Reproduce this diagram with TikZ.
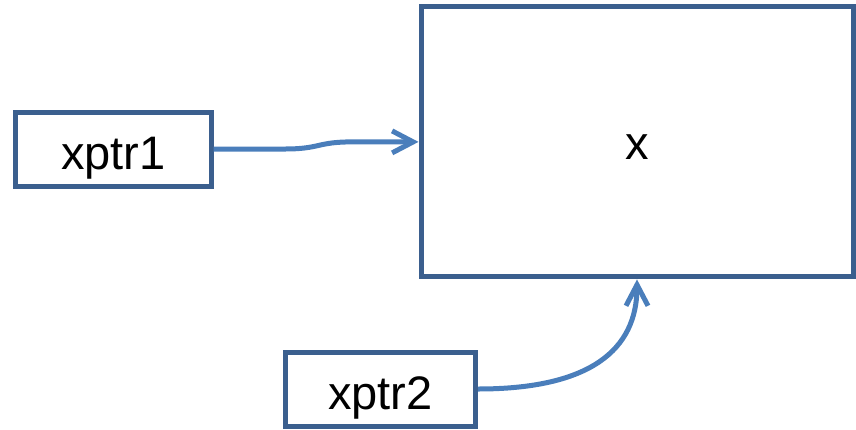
\documentclass[tikz,border=0pt]{standalone}
\usepackage{fontspec}
\setmainfont{Liberation Sans}
\usetikzlibrary{arrows.meta}
\definecolor{boxblue}{HTML}{3B5F8E}
\definecolor{linkblue}{HTML}{4A7EBB}
\tikzset{
  varbox/.style={draw=boxblue, line width=5pt, fill=white, inner sep=0pt,
    font=\fontsize{47}{52}\selectfont, text depth=0pt},
  link/.style={draw=linkblue, line width=5pt,
    -{Straight Barb[length=21pt,width=22pt]}}
}
\begin{document}
\begin{tikzpicture}[x=1pt,y=-1pt]
  \useasboundingbox (0,0) rectangle (856,429);
  % the pointee and the two pointers
  \node[varbox, text height=36pt, minimum width=432pt, minimum height=270pt] (x) at (637,141.9) {x};
  \node[varbox, text height=40pt, minimum width=195.5pt, minimum height=74pt] (p1) at (113.25,149) {xptr1};
  \node[varbox, text height=40pt, minimum width=190pt, minimum height=74pt] (p2) at (380.5,389) {xptr2};
  % pointer links
  \coordinate (k1) at (285,149);
  \coordinate (k2) at (352,141.9);
  \draw[link] (p1.east) -- (k1) .. controls (320,149) and (317,141.9) .. (k2) -- (x.west);
  \draw[link] (p2.east) .. controls (590,389) and (637,350) .. (x.south);
\end{tikzpicture}
\end{document}
